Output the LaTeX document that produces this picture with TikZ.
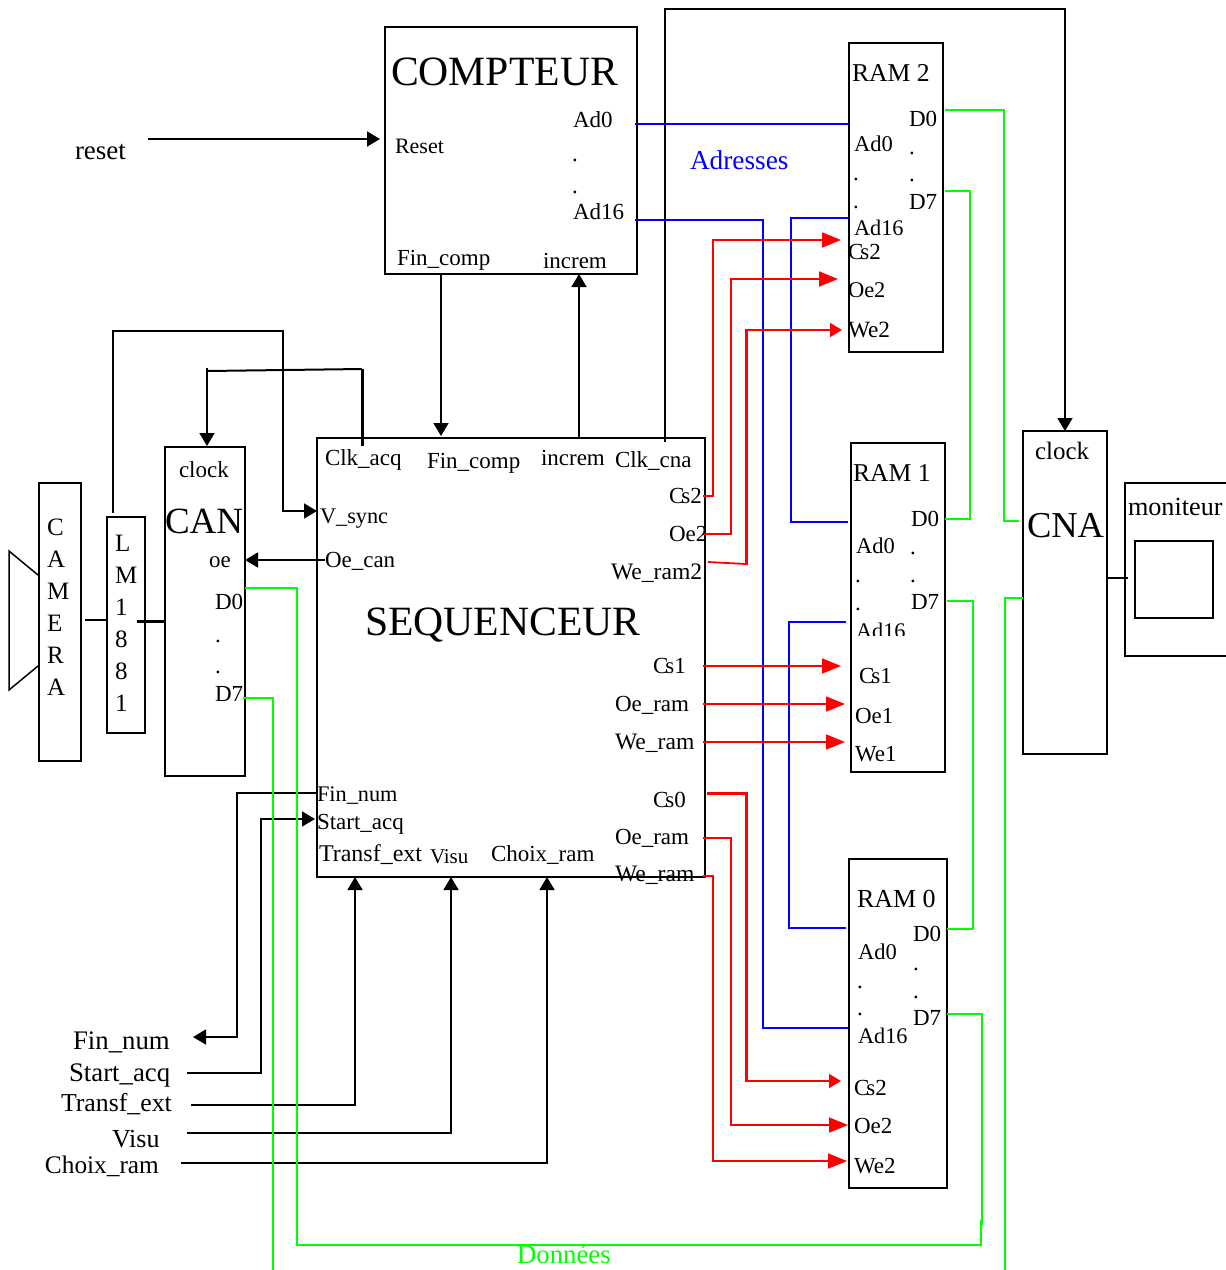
\documentclass[tikz,border=0pt]{standalone}
\usepackage{fontspec}
\setmainfont{Liberation Serif}
\usetikzlibrary{arrows.meta}
\definecolor{gr}{RGB}{0,255,0}
\definecolor{bl}{RGB}{0,0,255}
\definecolor{rd}{RGB}{255,0,0}
\tikzset{
 bx/.style={draw=black,line width=1.7pt,inner sep=0,outer sep=0,anchor=north west,minimum width=#1},
 fsz/.style={font=\fontsize{#1}{#1}\selectfont},
 lbl/.style={anchor=base west,inner sep=0,outer sep=0,fsz=23},
 big/.style={lbl,fsz=41.7},
 mid/.style={lbl,fsz=26},
 wire/.style={line width=1.6pt,black},
 wirea/.style={wire,-{Triangle[length=13pt,width=15pt]}},
 rw/.style={line width=1.8pt,rd,line join=miter},
 rwa/.style={rw,-{Triangle[length=19pt,width=15pt]}},
 rwb/.style={rw,-{Triangle[length=12pt,width=14pt]}},
 bw/.style={line width=1.8pt,bl},
 gw/.style={line width=1.8pt,gr},
}
\newcommand{\lab}[5][]{\node[lbl,#1] (#2) at (#3,#4) {#5};}
\newcommand{\bxx}[5]{\node[bx=#4 pt-#2 pt,minimum height=#5 pt-#3 pt] (#1) at (#2,#3) {};}
\newcommand{\csn}[1]{C\kern-3pt s#1}
\begin{document}
\begin{tikzpicture}[x=1pt,y=-1pt]
\useasboundingbox (0,0) rectangle (1226,1270);
% boxes
\bxx{compteur}{385}{27}{637}{274}
\bxx{ramb}{849}{43}{943}{352}
\bxx{ramc}{851}{443}{945}{772}
\bxx{rama}{849}{859}{947}{1188}
\bxx{seq}{317}{438}{705}{877}
\bxx{can}{165}{447}{245}{776}
\bxx{lm}{107}{517}{145}{733}
\bxx{camera}{39}{483}{81}{761}
\bxx{cna}{1023}{431}{1107}{754}
\bxx{moni}{1125}{483}{1240}{656}
\bxx{screen}{1135}{541}{1213}{618}
\draw[line width=1.5pt,line join=miter] (38,575) coordinate (lensa) -- (9,551) -- (9,690) -- (38,666) coordinate (lensb);
% coordinates
\coordinate (camout) at (85,620); \coordinate (lmin) at (107,620);
\coordinate (lmout) at (137,621); \coordinate (canin) at (165,621);
\coordinate (lmtop) at (113,513); \coordinate (vsyncin) at (317,511);
\coordinate (clkacq) at (362,446); \coordinate (clkacqtop) at (362,369); \coordinate (clkcorner) at (207,371); \coordinate (canclk) at (207,446);
\coordinate (oecan) at (325,560); \coordinate (canoe) at (245,560);
\coordinate (resetin) at (148,139); \coordinate (resetout) at (380,139);
\coordinate (finco) at (441,274); \coordinate (finsi) at (441,436);
\coordinate (incsi) at (579,438); \coordinate (incco) at (579,274);
\coordinate (clkcna) at (665,442); \coordinate (cnaclk) at (1065,431);
\coordinate (cnaout) at (1107,578); \coordinate (moniin) at (1128,578);
% black wires
\draw[wire] (camout) -- (lmin);
\draw[line width=3pt] (lmout) -- (canin);
\draw[wirea] (lmtop) -- (113,331) -- (283,331) -- (283,511) -- (vsyncin);
\draw[line width=3pt] (clkacq) -- (clkacqtop);
\draw[line width=2pt] (clkacqtop) -- (clkcorner);
\draw[wirea] (207,368) -- (canclk);
\draw[wirea] (oecan) -- (canoe);
\draw[wirea] (resetin) -- (resetout);
\draw[wirea] (finco) -- (finsi);
\draw[wirea] (incsi) -- (incco);
\draw[wirea] (clkcna) -- (665,9) -- (1065,9) -- (cnaclk);
\draw[wire] (cnaout) -- (moniin);
% bottom left
\coordinate (sfin) at (317,793); \coordinate (xfin) at (193,1037);
\coordinate (xstart) at (187,1073); \coordinate (sstart) at (315,819);
\coordinate (xtr) at (191,1105); \coordinate (str) at (355,877);
\coordinate (xvi) at (187,1133); \coordinate (svi) at (451,877);
\coordinate (xch) at (181,1163); \coordinate (sch) at (547,877);
\draw[wirea] (sfin) -- (237,793) -- (237,1037) -- (xfin);
\draw[wirea] (xstart) -- (261,1073) -- (261,819) -- (sstart);
\draw[wirea] (xtr) -- (355,1105) -- (str);
\draw[wirea] (xvi) -- (451,1133) -- (svi);
\draw[wirea] (xch) -- (547,1163) -- (sch);
% blue
\coordinate (cad0) at (635,124); \coordinate (bad0) at (849,124);
\coordinate (cad16) at (635,220); \coordinate (aad16) at (848,1028);
\coordinate (bad16) at (849,218); \coordinate (cad0i) at (848,522);
\coordinate (cad16i) at (846,622); \coordinate (aad0) at (846,928);
\draw[bw] (cad0) -- (bad0);
\draw[bw] (cad16) -- (763,220) -- (763,1028) -- (aad16);
\draw[bw] (bad16) -- (791,218) -- (791,522) -- (cad0i);
\draw[bw] (cad16i) -- (789,622) -- (789,928) -- (aad0);
% red
\coordinate (scs2) at (703,496); \coordinate (bcs2) at (841,240);
\coordinate (soe2) at (703,534); \coordinate (boe2) at (838,279);
\coordinate (swe2) at (708,562); \coordinate (bwe2) at (842,330);
\coordinate (scs1) at (703,666); \coordinate (ccs1) at (841,666);
\coordinate (soe1) at (703,704); \coordinate (coe1) at (845,704);
\coordinate (swe1) at (703,742); \coordinate (cwe1) at (845,742);
\coordinate (scs0) at (707,793); \coordinate (acs) at (841,1081);
\coordinate (soe0) at (703,838); \coordinate (aoe) at (848,1125);
\coordinate (swe0) at (703,876); \coordinate (awe) at (847,1161);
\draw[rwa] (scs2) -- (713,496) -- (713,240) -- (bcs2);
\draw[rwa] (soe2) -- (731,534) -- (731,279) -- (boe2);
\draw[rw] (swe2) -- (746,564);
\draw[line width=3pt,rd] (746,565) -- (746,330);
\draw[rwb] (745,330) -- (bwe2);
\draw[rwa] (scs1) -- (ccs1);
\draw[rwa] (soe1) -- (coe1);
\draw[rwa] (swe1) -- (cwe1);
\draw[line width=3pt,rd] (scs0) -- (746,793) -- (746,1081);
\draw[rwb] (745,1081) -- (acs);
\draw[rwa] (soe0) -- (731,838) -- (731,1125) -- (aoe);
\draw[rwa] (swe0) -- (713,876) -- (713,1161) -- (awe);
% green
\coordinate (cand0) at (245,588); \coordinate (ad7) at (947,1014);
\coordinate (cand7) at (243,698); \coordinate (offa) at (273,1272);
\coordinate (ad0) at (947,929); \coordinate (cd7) at (947,601);
\coordinate (cd0) at (945,519); \coordinate (bd7) at (945,191);
\coordinate (bd0) at (945,110); \coordinate (cnaa) at (1019,521);
\coordinate (cnab) at (1023,598); \coordinate (offb) at (1005,1272);
\draw[gw] (cand0) -- (297,588) -- (297,1245) -- (981,1245) -- (981,1220);
\draw[gw] (982,1225) -- (982,1014) -- (ad7);
\draw[gw] (cand7) -- (273,698) -- (offa);
\draw[gw] (ad0) -- (973,929) -- (973,601) -- (cd7);
\draw[gw] (cd0) -- (970,519) -- (970,191) -- (bd7);
\draw[gw] (bd0) -- (1004,110) -- (1004,521) -- (cnaa);
\draw[gw] (cnab) -- (1005,598) -- (offb);
\draw[line width=2.8pt,gr] (1005,805) -- (1005,855);
% labels compteur
\lab[big]{tcompteur}{391}{85}{COMPTEUR}
\lab[fsz=22]{treset}{395}{153}{Reset}
\lab{tcad0}{573}{127}{Ad0}
\lab{tcdota}{572}{161}{.}
\lab{tcdotb}{572}{193}{.}
\lab{tcad16}{573}{219}{Ad16}
\lab{tcfin}{397}{265}{Fin\_comp}
\lab{tcinc}{543}{268}{increm}
\lab[fsz=27]{treseto}{75}{159}{reset}
\lab[fsz=27.3,text=bl]{tadr}{690}{169}{Adresses}
\lab[fsz=26.8,text=gr]{tdon}{517}{1263}{Données}
% RAM 2
\lab[fsz=25.7]{trb}{852}{81}{RAM 2}
\lab{tbd0}{909}{126}{D0}
\lab{tbdda}{909}{154}{.}
\lab{tbddb}{909}{181}{.}
\lab{tbd7}{909}{209}{D7}
\lab[fsz=22.5]{tbad0}{854}{151}{Ad0}
\lab{tbda}{853}{180}{.}
\lab{tbdb}{853}{208}{.}
\lab[fsz=22.3]{tbad16}{854}{235}{Ad16}
\lab{tbcs}{848}{259}{\csn{2}}
\lab[fsz=22.5]{tboe}{848}{297}{Oe2}
\lab[fsz=23.3]{tbwe}{848}{337}{We2}
% RAM 1
\lab[fsz=25.7]{trc}{853}{481}{RAM 1}
\lab{tcd0}{911}{526}{D0}
\lab{tcdda}{910}{554}{.}
\lab{tcddb}{910}{582}{.}
\lab{tcd7}{911}{609}{D7}
\lab[fsz=22.5]{tcad}{856}{553}{Ad0}
\lab{tcda}{855}{582}{.}
\lab{tcdb}{855}{610}{.}
\begin{scope}
\clip (852,612) rectangle (942,635);
\lab[fsz=22.3]{tcad1}{856}{638}{Ad16}
\end{scope}
\lab{tccs}{859}{683}{\csn{1}}
\lab{tcoe}{855}{723}{Oe1}
\lab{tcwe}{855}{761}{We1}
% RAM 0
\lab[mid]{tra}{857}{907}{RAM 0}
\lab{tad0}{913}{941}{D0}
\lab{tadda}{913}{970}{.}
\lab{taddb}{913}{998}{.}
\lab{tad7}{913}{1025}{D7}
\lab[fsz=22.5]{taad}{858}{959}{Ad0}
\lab{tada}{857}{988}{.}
\lab{tadb}{857}{1015}{.}
\lab[fsz=22.3]{taad1}{858}{1043}{Ad16}
\lab{tacs}{854}{1095}{\csn{2}}
\lab{taoe}{854}{1133}{Oe2}
\lab{tawe}{854}{1173}{We2}
% sequenceur
\lab[big]{tseq}{365}{635}{SEQUENCEUR}
\lab{tsclk}{325}{465}{Clk\_acq}
\lab{tsfin}{427}{468}{Fin\_comp}
\lab{tsinc}{541}{465}{increm}
\lab{tscna}{615}{467}{Clk\_cna}
\lab{tscs2}{669}{503}{\csn{2}}
\lab{tsoe2}{669}{541}{Oe2}
\lab[fsz=23.6]{tswe2}{611}{579}{We\_ram2}
\lab{tscs1}{653}{673}{\csn{1}}
\lab{tsoe1}{615}{711}{Oe\_ram}
\lab[fsz=23.6]{tswe1}{615}{749}{We\_ram}
\lab{tscs0}{653}{807}{\csn{0}}
\lab{tsoe0}{615}{844}{Oe\_ram}
\lab[fsz=23.6]{tswe0}{615}{881}{We\_ram}
\lab[fsz=22.3]{tsv}{320}{523}{V\_sync}
\lab{tsoec}{325}{567}{Oe\_can}
\lab[fsz=22.3]{tsfn}{317}{801}{Fin\_num}
\lab{tsst}{317}{829}{Start\_acq}
\lab[fsz=24]{tstr}{319}{861}{Transf\_ext}
\lab[fsz=21]{tsvi}{430}{863}{Visu}
\lab{tsch}{491}{861}{Choix\_ram}
% CAN
\lab{tcclk}{179}{477}{clock}
\node[lbl,fsz=37] (tcan) at (165,533) {CAN};
\lab{tcoec}{209}{567}{oe}
\lab{tcnd0}{215}{609}{D0}
\lab{tcnda}{215}{642}{.}
\lab{tcndb}{215}{673}{.}
\lab{tcnd7}{215}{701}{D7}
% camera
\lab[fsz=25]{tc1}{47}{535}{C}
\lab[fsz=25]{tc2}{47}{567}{A}
\lab[fsz=25]{tc3}{47}{599}{M}
\lab[fsz=25]{tc4}{47}{631}{E}
\lab[fsz=25]{tc5}{47}{663}{R}
\lab[fsz=25]{tc6}{47}{695}{A}
\lab[fsz=25]{tl1}{115}{551}{L}
\lab[fsz=25]{tl2}{115}{583}{M}
\lab[fsz=25]{tl3}{115}{615}{1}
\lab[fsz=25]{tl4}{115}{647}{8}
\lab[fsz=25]{tl5}{115}{679}{8}
\lab[fsz=25]{tl6}{115}{711}{1}
% bottom left
\lab[fsz=26.8]{tbfin}{73}{1049}{Fin\_num}
\lab[fsz=26.8]{tbst}{69}{1081}{Start\_acq}
\lab[fsz=25.8]{tbtr}{61}{1111}{Transf\_ext}
\lab[mid]{tbvi}{112}{1147}{Visu}
\lab[fsz=25.3]{tbch}{45}{1173}{Choix\_ram}
% CNA
\lab[fsz=25]{tnclk}{1035}{459}{clock}
\node[lbl,fsz=36.5] (tcna) at (1027,537) {CNA};
\lab[fsz=26.2]{tmoni}{1128}{515}{moniteur}
\end{tikzpicture}
\end{document}
